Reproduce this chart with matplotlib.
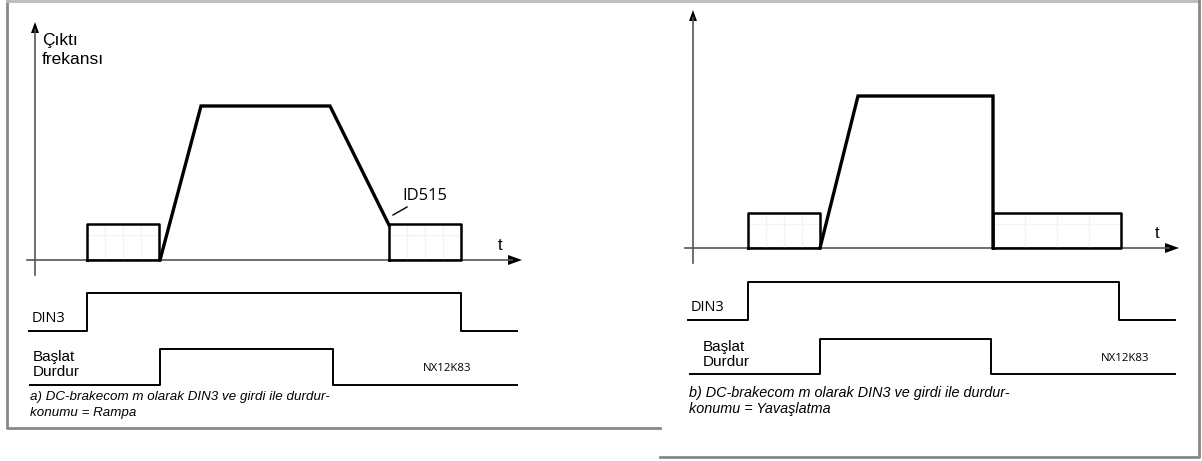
import matplotlib.pyplot as plt

W, H = 1202, 461

# ---- panel a: stop function = ramp (pixel-ish diagram units) ----
freq_a_t = [160, 201, 330, 389]          # run start, reach max, decel start, stop
freq_a_lvl = [260, 106, 106, 225]
brake_a = [(87, 159), (389, 461)]        # DC-brake intervals
din3_a_t = [29, 87, 461, 517]
start_a_t = [30, 160, 333, 517]

# ---- panel b: stop function = coasting ----
freq_b_t = [820, 858, 993, 993]
freq_b_lvl = [248, 96, 96, 248]
brake_b = [(748, 820), (993, 1121)]
din3_b_t = [688, 748, 1119, 1175]
start_b_t = [690, 820, 991, 1175]

# levels
axis_a = {"x": 35, "y": 260, "top": 22, "bottom": 275, "left": 27, "right": 522}
axis_b = {"x": 693, "y": 248, "top": 10, "bottom": 263, "left": 685, "right": 1179}
brake_top = {"a": 224, "b": 213}
din3_lvl = {"a": (331, 293), "b": (320, 282)}
start_lvl = {"a": (385, 349), "b": (374, 339)}

caption_a = ["a) DC-brakecom m olarak DIN3 ve girdi ile durdur-", "konumu = Rampa"]
caption_b = ["b) DC-brakecom m olarak DIN3 ve girdi ile durdur-", "konumu = Yavaşlatma"]

ARIAL = "Liberation Sans"
CALIB = "Open Sans"

fig = plt.figure(figsize=(W / 100, H / 100), dpi=100)
ax = fig.add_axes([0, 0, 1, 1])
ax.set_xlim(0, W)
ax.set_ylim(H, 0)
ax.axis("off")


def step(t, lo, hi):
    xs = [t[0], t[1], t[1], t[2], t[2], t[3]]
    ys = [lo, lo, hi, hi, lo, lo]
    return xs, ys


def draw_axes(a):
    ax.plot([a["x"], a["x"]], [a["bottom"], a["top"] + 8], color="#555555", lw=1.2)
    ax.fill([a["x"] - 4, a["x"] + 4, a["x"]], [a["top"] + 11, a["top"] + 11, a["top"]],
            color="black", lw=0)
    ax.plot([a["left"], a["right"] - 10], [a["y"], a["y"]], color="#555555", lw=1.2)
    ax.fill([a["right"] - 14, a["right"] - 14, a["right"]], [a["y"] - 5, a["y"] + 5, a["y"]],
            color="black", lw=0)


def draw_brake(spans, top, base):
    for x0, x1 in spans:
        # faint grid inside the box
        for k in range(1, 4):
            xk = x0 + (x1 - x0) * k / 4
            ax.plot([xk, xk], [top, base], color="#f3f3f3", lw=1)
        ax.plot([x0, x1], [top + (base - top) * 0.3] * 2, color="#f3f3f3", lw=1)
        ax.plot([x0, x0, x1, x1, x0], [base, top, top, base, base], color="black", lw=1.8)


for key, a, fx, fy, br, dt, st, cap in [
    ("a", axis_a, freq_a_t, freq_a_lvl, brake_a, din3_a_t, start_a_t, caption_a),
    ("b", axis_b, freq_b_t, freq_b_lvl, brake_b, din3_b_t, start_b_t, caption_b),
]:
    draw_axes(a)
    draw_brake(br, brake_top[key], a["y"])
    ax.plot(fx, fy, color="black", lw=2.4, solid_joinstyle="miter")
    xs, ys = step(dt, *din3_lvl[key])
    ax.plot(xs, ys, color="black", lw=1.4)
    xs, ys = step(st, *start_lvl[key])
    ax.plot(xs, ys, color="black", lw=1.4)
    ax.text(a["right"] - 24, a["y"] - 15, "t", fontsize=12, family=ARIAL, ha="left", va="center")
    ax.text(dt[0] + 3, din3_lvl[key][0] - 13, "DIN3", fontsize=10.5, family=CALIB, va="center")
    lx = st[0] + 3 + (10 if key == "b" else 0)
    ax.text(lx, start_lvl[key][1] + 8, "Başlat", fontsize=11, family=ARIAL, va="center")
    ax.text(lx, start_lvl[key][1] + 23, "Durdur", fontsize=11, family=ARIAL, va="center")
    nx = st[3] - (70 if key == "a" else 50)
    ax.text(nx, start_lvl[key][1] + 19, "NX12K83", fontsize=8.2, family=CALIB,
            ha="center", va="center")
    cy = 397 if key == "a" else 393
    fs = 9.6 if key == "a" else 10.4
    ax.text(dt[0] + 1, cy, cap[0], fontsize=fs, family=ARIAL, style="italic", va="center")
    ax.text(dt[0] + 1, cy + 16, cap[1], fontsize=fs, family=ARIAL, style="italic", va="center")

# y-axis label and ID515 note in panel a
ax.text(42, 40, "Çıktı", fontsize=12.5, family=ARIAL, va="center")
ax.text(42, 60, "frekansı", fontsize=12.5, family=ARIAL, va="center")
ax.text(402, 196, "ID515", fontsize=12, family=CALIB, va="center")
ax.plot([393, 407], [215, 207], color="black", lw=1)

# frames
ax.plot([7, 7, 660], [0, 428, 428], color="#888888", lw=2)
ax.plot([7, 1199], [1, 1], color="#bbbbbb", lw=2)
ax.plot([660, 1199, 1199], [457, 457, 1], color="#888888", lw=2)

fig.savefig("out.png", dpi=100)
